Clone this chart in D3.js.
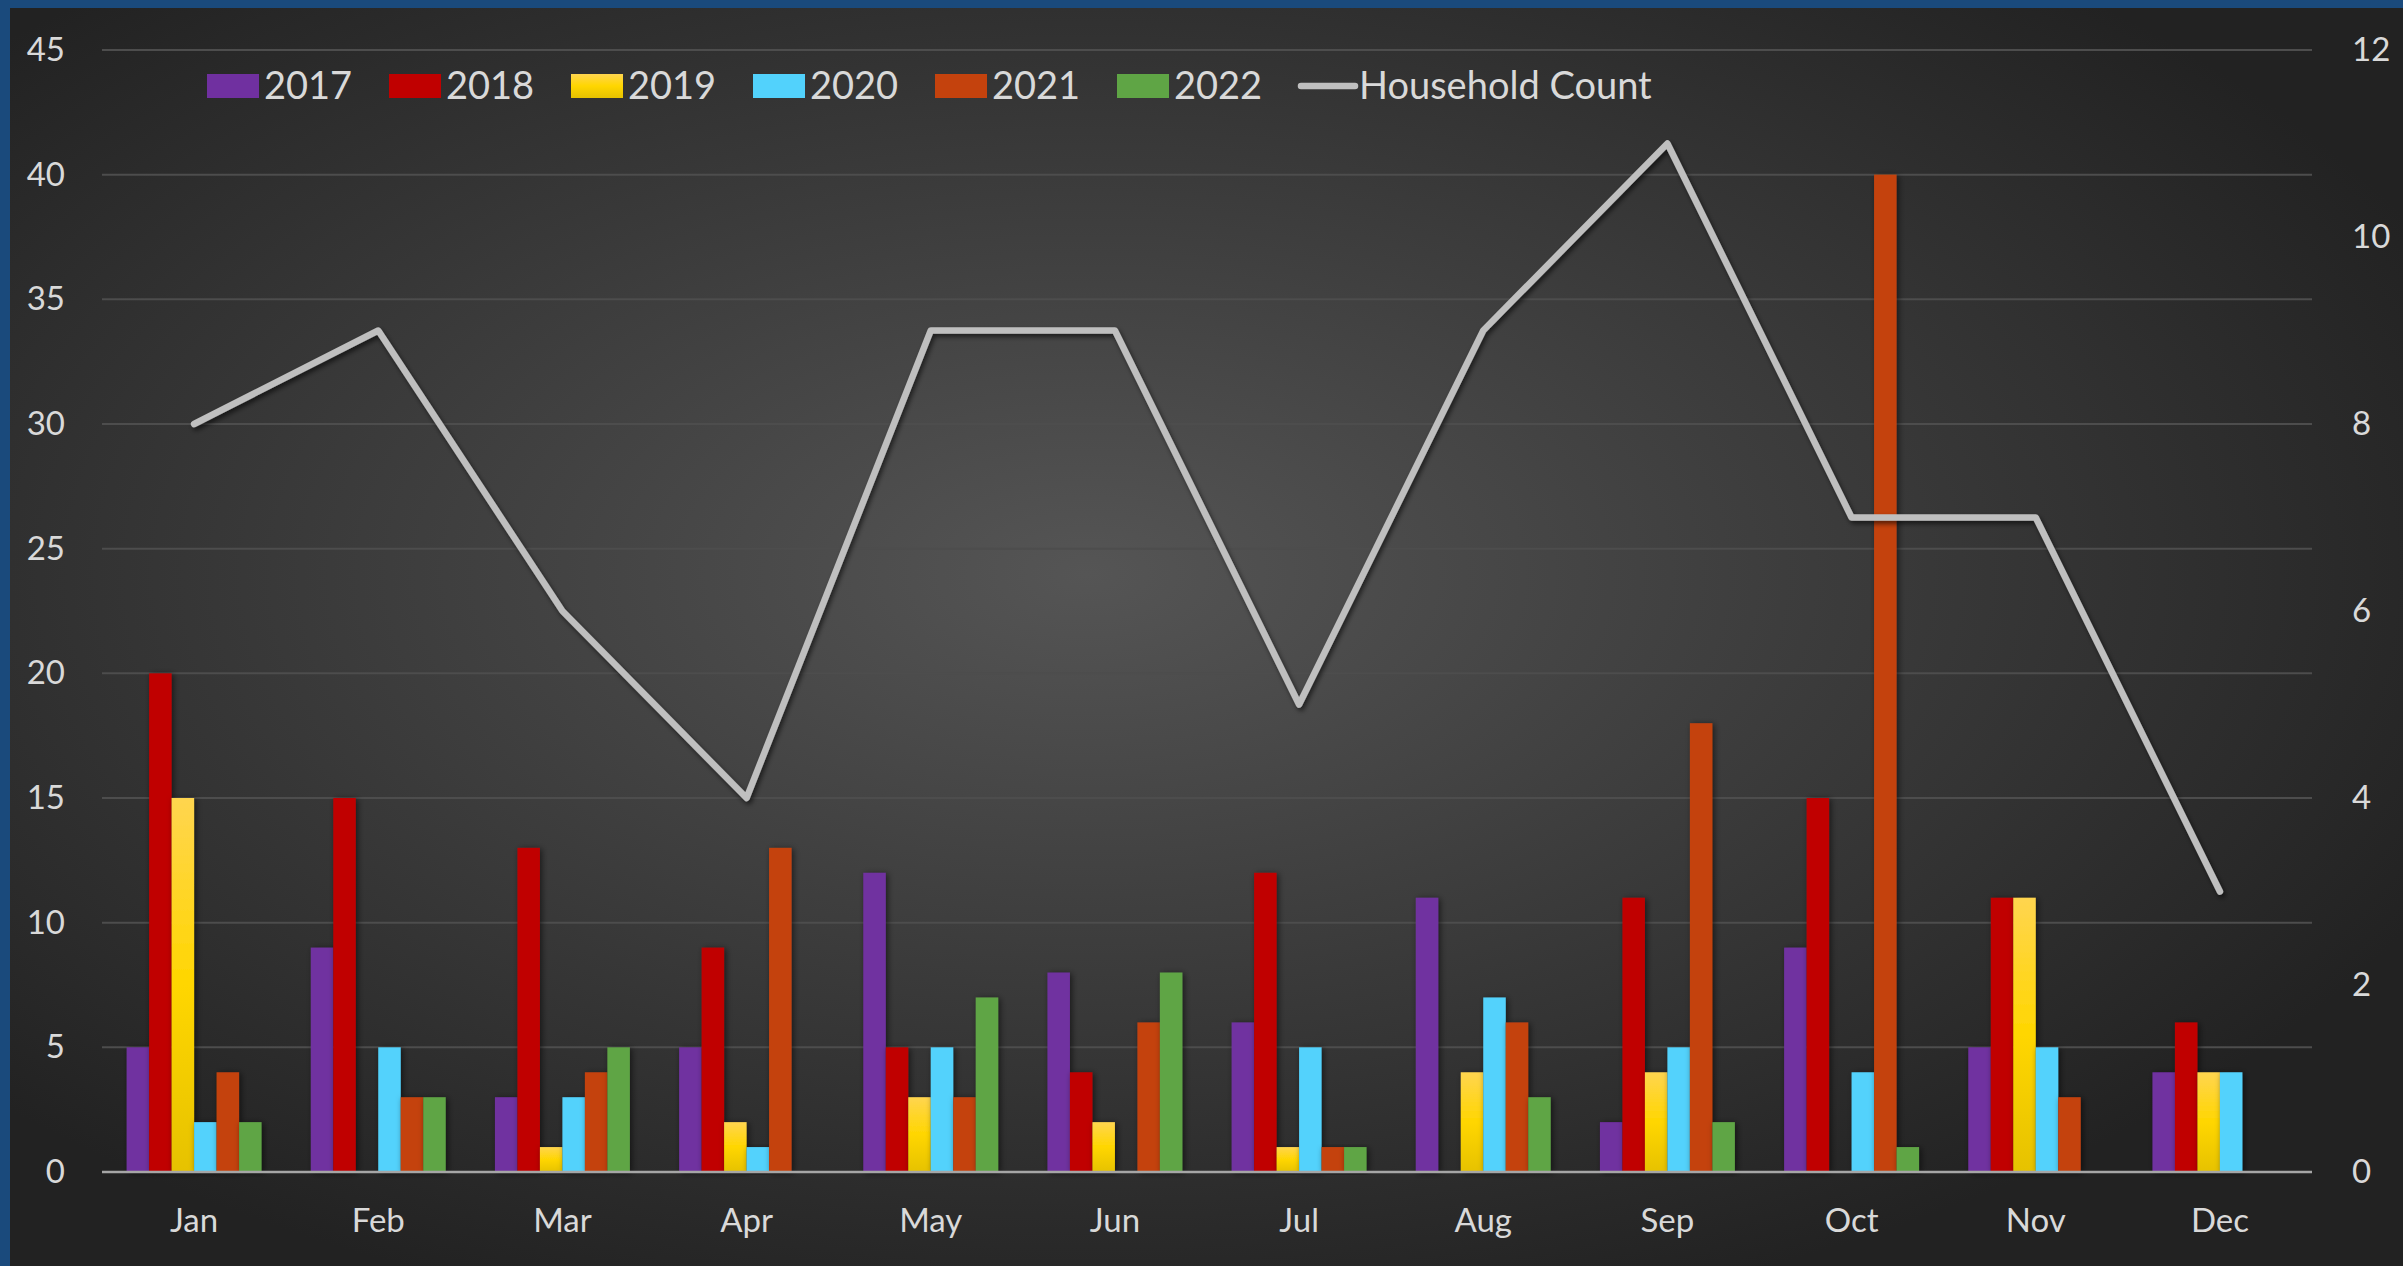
<!DOCTYPE html>
<html>
<head>
<meta charset="utf-8">
<script src="https://cdn.jsdelivr.net/npm/d3@7"></script>
<style>
  html, body { margin: 0; padding: 0; background: #1a4a7c; }
  svg { display: block; }
</style>
</head>
<body>
<script>
// chart data
var months = ["Jan", "Feb", "Mar", "Apr", "May", "Jun", "Jul", "Aug", "Sep", "Oct", "Nov", "Dec"];
var years = ["2017", "2018", "2019", "2020", "2021", "2022"];
var v2017 = [5, 9, 3, 5, 12, 8, 6, 11, 2, 9, 5, 4];
var v2018 = [20, 15, 13, 9, 5, 4, 12, 0, 11, 15, 11, 6];
var v2019 = [15, 0, 1, 2, 3, 2, 1, 4, 4, 0, 11, 4];
var v2020 = [2, 5, 3, 1, 5, 0, 5, 7, 5, 4, 5, 4];
var v2021 = [4, 3, 4, 13, 3, 6, 1, 6, 18, 40, 3, 0];
var v2022 = [2, 3, 5, 0, 7, 8, 1, 3, 2, 1, 0, 0];
var householdCount = [8, 9, 6, 4, 9, 9, 5, 9, 11, 7, 7, 3];
var leftTicks = [0, 5, 10, 15, 20, 25, 30, 35, 40, 45];
var rightTicks = [0, 2, 4, 6, 8, 10, 12];

var seriesValues = [v2017, v2018, v2019, v2020, v2021, v2022];
var colors = ["#7030a0", "#c00000", "url(#yellowGrad)", "#52d2fc", "#c4420d", "#5fa545"];

var W = 2403, H = 1266;
var plotL = 102, plotR = 2312, plotT = 50, plotB = 1172;

var svg = d3.select("body").append("svg")
    .attr("width", W)
    .attr("height", H);

var defs = svg.append("defs");

var bg = defs.append("radialGradient")
    .attr("id", "bgGrad")
    .attr("cx", "45%").attr("cy", "45%").attr("r", "62%");
bg.append("stop").attr("offset", "0%").attr("stop-color", "#555555");
bg.append("stop").attr("offset", "100%").attr("stop-color", "#222222");

var yg = defs.append("linearGradient")
    .attr("id", "yellowGrad")
    .attr("x1", 0).attr("y1", 0).attr("x2", 0).attr("y2", 1);
yg.append("stop").attr("offset", "0%").attr("stop-color", "#ffd54f");
yg.append("stop").attr("offset", "50%").attr("stop-color", "#ffd600");
yg.append("stop").attr("offset", "100%").attr("stop-color", "#e6c200");

var barShadow = defs.append("filter").attr("id", "barShadow")
    .attr("x", "-50%").attr("y", "-10%").attr("width", "200%").attr("height", "120%");
barShadow.append("feDropShadow")
    .attr("dx", 2).attr("dy", 1).attr("stdDeviation", 3)
    .attr("flood-color", "#000").attr("flood-opacity", 0.55);

var lineShadow = defs.append("filter").attr("id", "lineShadow")
    .attr("x", "-10%").attr("y", "-10%").attr("width", "120%").attr("height", "120%");
lineShadow.append("feDropShadow")
    .attr("dx", 2).attr("dy", 3).attr("stdDeviation", 2.5)
    .attr("flood-color", "#000").attr("flood-opacity", 0.6);

// background panel (blue frame shows at top and left)
svg.append("rect")
    .attr("x", 10).attr("y", 8)
    .attr("width", W - 10).attr("height", H - 8)
    .attr("fill", "url(#bgGrad)");

var x0 = d3.scaleBand().domain(months).range([plotL, plotR]).padding(0);
var step = x0.bandwidth();
var groupW = step * 6 / 8.19;
var x1 = d3.scaleBand().domain(years)
    .range([(step - groupW) / 2, (step + groupW) / 2]).padding(0);

var yL = d3.scaleLinear().domain([0, 45]).range([plotB, plotT]);
var yR = d3.scaleLinear().domain([0, 12]).range([plotB, plotT]);

// gridlines
svg.append("g")
    .selectAll("line")
    .data(leftTicks.filter(function(d) { return d > 0; }))
    .enter()
    .append("line")
    .attr("x1", plotL).attr("x2", plotR)
    .attr("y1", function(d) { return yL(d); })
    .attr("y2", function(d) { return yL(d); })
    .attr("stroke", "#4d4d4d")
    .attr("stroke-width", 2);

// left axis labels
var leftAxis = d3.axisLeft(yL).tickValues(leftTicks).tickSize(0).tickPadding(0);
var gl = svg.append("g").attr("transform", "translate(65,0)").call(leftAxis);
gl.select(".domain").remove();
gl.selectAll("text")
    .attr("fill", "#d9d9d9")
    .attr("font-family", "Lato, sans-serif")
    .attr("font-size", "33px");

// right axis labels
var rightAxis = d3.axisRight(yR).tickValues(rightTicks).tickSize(0).tickPadding(0);
var gr = svg.append("g").attr("transform", "translate(2352,0)").call(rightAxis);
gr.select(".domain").remove();
gr.selectAll("text")
    .attr("fill", "#d9d9d9")
    .attr("font-family", "Lato, sans-serif")
    .attr("font-size", "33px");

// bars
var groups = svg.append("g")
    .selectAll("g")
    .data(months)
    .enter()
    .append("g")
    .attr("transform", function(d) { return "translate(" + x0(d) + ",0)"; });

groups.selectAll("rect")
    .data(function(m, i) {
        return years.map(function(y, j) {
            return { year: y, idx: j, value: seriesValues[j][i] };
        }).filter(function(d) { return d.value > 0; });
    })
    .enter()
    .append("rect")
    .attr("x", function(d) { return x1(d.year); })
    .attr("y", function(d) { return yL(d.value); })
    .attr("width", x1.bandwidth())
    .attr("height", function(d) { return plotB - yL(d.value); })
    .attr("fill", function(d) { return colors[d.idx]; })
    .attr("filter", "url(#barShadow)");

// x axis line and labels
svg.append("line")
    .attr("x1", plotL).attr("x2", plotR)
    .attr("y1", plotB).attr("y2", plotB)
    .attr("stroke", "#a6a6a6")
    .attr("stroke-width", 2.5);

var xAxis = d3.axisBottom(x0).tickSize(0).tickPadding(0);
var gx = svg.append("g").attr("transform", "translate(0," + plotB + ")").call(xAxis);
gx.select(".domain").remove();
gx.selectAll("text")
    .attr("dy", 0)
    .attr("y", 60)
    .attr("fill", "#d9d9d9")
    .attr("font-family", "Lato, sans-serif")
    .attr("font-size", "33px");

// household count line
var line = d3.line()
    .x(function(d, i) { return x0(months[i]) + step / 2; })
    .y(function(d) { return yR(d); });

svg.append("path")
    .datum(householdCount)
    .attr("d", line)
    .attr("fill", "none")
    .attr("stroke", "#bfbfbf")
    .attr("stroke-width", 6.5)
    .attr("stroke-linejoin", "round")
    .attr("stroke-linecap", "round")
    .attr("filter", "url(#lineShadow)");

// legend
var legendNames = years.concat(["Household Count"]);
var legend = svg.append("g")
    .selectAll("g")
    .data(legendNames)
    .enter()
    .append("g")
    .attr("transform", function(d, i) { return "translate(" + (207 + i * 182) + ",0)"; });

legend.filter(function(d, i) { return i < 6; })
    .append("rect")
    .attr("x", 0).attr("y", 74)
    .attr("width", 52).attr("height", 24)
    .attr("fill", function(d, i) { return colors[i]; });

legend.filter(function(d, i) { return i === 6; })
    .append("line")
    .attr("x1", 2).attr("x2", 56)
    .attr("y1", 86).attr("y2", 86)
    .attr("stroke", "#bfbfbf")
    .attr("stroke-width", 6.5)
    .attr("stroke-linecap", "round");

legend.append("text")
    .attr("x", function(d, i) { return i < 6 ? 57 : 60; })
    .attr("y", 99)
    .text(function(d) { return d; })
    .attr("fill", "#d9d9d9")
    .attr("font-family", "Lato, sans-serif")
    .attr("font-size", "38px");
</script>
</body>
</html>
